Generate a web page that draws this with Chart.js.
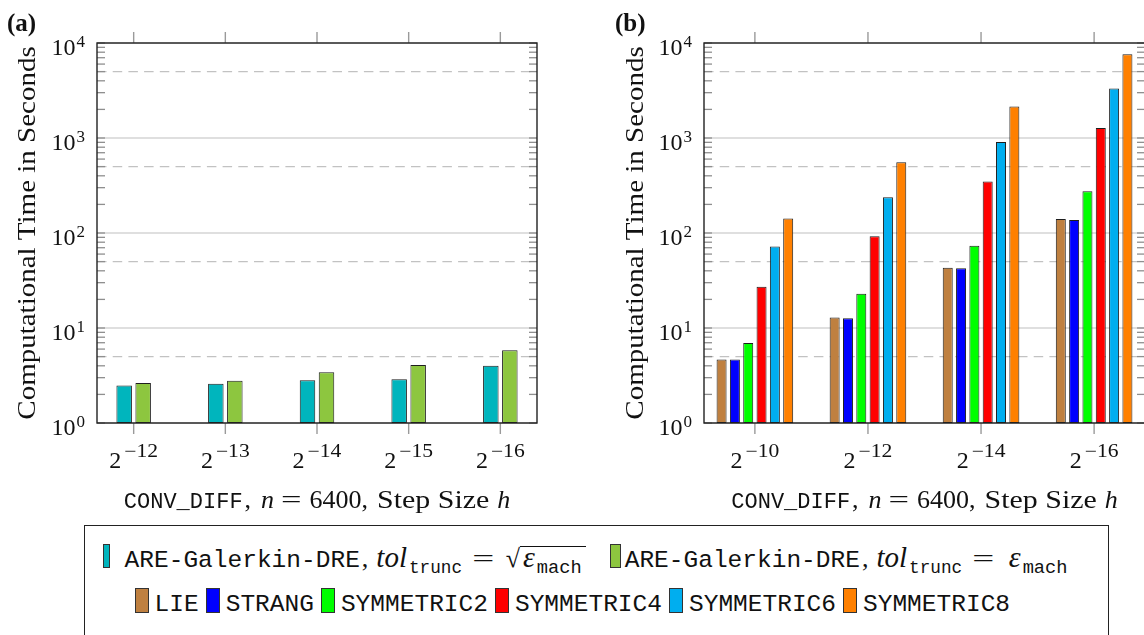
<!doctype html>
<html lang="en">
<head>
<meta charset="utf-8">
<title>Computational Time</title>
<script src="https://cdn.jsdelivr.net/npm/chart.js@4.4.1/dist/chart.umd.min.js"></script>
<style>
  html, body { margin: 0; padding: 0; background: #fff; }
  body { width: 1144px; height: 635px; position: relative; overflow: hidden; }
  canvas { position: absolute; top: 0; }
  #legend { position: absolute; left: 84px; top: 525px; width: 1025px; height: 130px;
            border: 1.4px solid #222; box-sizing: border-box; color: #111; }
  .row { position: absolute; left: 0; right: 0; text-align: left; white-space: nowrap;
         line-height: 30px; font-family: "Liberation Serif", serif; font-size: 26px; }
  .tt { font-family: "Liberation Mono", monospace; font-size: 24.5px; }
  .tol { font-style: italic; font-size: 29px; margin-left: 8px; }
  .comma { margin-left: 2px; }
  .sub { font-family: "Liberation Mono", monospace; font-size: 17.7px; position: relative; top: 6px; margin-left: 2px; }
  .sub2 { font-family: "Liberation Mono", monospace; font-size: 18.7px; position: relative; top: 6px; margin-left: 2px; }
  .eq { display: inline-block; transform: scaleX(1.5); margin: 0 15px 0 14px; }
  .eps { font-style: italic; font-size: 30px; margin-left: 3px; }
  .rad { display: inline-block; line-height: 20px; border-top: 1.3px solid #111; padding-right: 4px; }
  .sw { display: inline-block; border: 1px solid #333; box-sizing: border-box; }
  .thin { height: 24px; vertical-align: -1px; }
  .wide { width: 14px; height: 25px; vertical-align: -2px; margin-right: 6px; margin-left: 7px; }
</style>
</head>
<body>
<canvas id="plot_a" width="560" height="520" style="left:0"></canvas>
<canvas id="plot_b" width="560" height="520" style="left:600px"></canvas>
<div id="legend">
  <div class="row" id="row1" style="top:16px; padding-left:17.6px"></div>
  <div class="row" id="row2" style="top:62px; padding-left:42.6px"></div>
</div>

<script>
// ---- data ----
// (a) ARE-Galerkin-DRE, step size h = 2^k
const stepExpA = [-12, -13, -14, -15, -16];
const areSqrtEps = [2.48, 2.59, 2.82, 2.89, 4.0];
const areEps = [2.63, 2.78, 3.42, 4.09, 5.82];

// (b) splitting schemes
const stepExpB = [-10, -12, -14, -16];
const lie = [4.65, 12.9, 43.2, 140];
const strang = [4.65, 12.7, 42.6, 137];
const symmetric2 = [6.96, 23.0, 73.6, 275];
const symmetric4 = [27.1, 92.3, 348, 1274];
const symmetric6 = [71.9, 238, 908, 3311];
const symmetric8 = [142, 554, 2142, 7603];

const methodNames = ["LIE", "STRANG", "SYMMETRIC2", "SYMMETRIC4", "SYMMETRIC6", "SYMMETRIC8"];
const methodColors = ["#BF8040", "#0000FF", "#00FF00", "#FF0000", "#00AEEF", "#FF8000"];
const areColors = ["#00B5BD", "#8DC63F"];

// log axis: decades 10^0..10^4, minor ticks at 2..9
const decadeExps = [0, 1, 2, 3, 4];
const minorMults = [2, 3, 4, 5, 6, 7, 8, 9];

const serif = '"Liberation Serif", serif';
const mono = '"Liberation Mono", monospace';
const yTitle = "Computational Time in Seconds";

function line(ctx, x1, y1, x2, y2) {
    ctx.beginPath(); ctx.moveTo(x1, y1); ctx.lineTo(x2, y2); ctx.stroke();
}

// text pieces in different fonts, one after another, centred on cx
// pre = space before a piece, sx = sideways stretch (the original uses the wider TeX fonts)
function drawRuns(ctx, runs, cx, base) {
    let total = 0;
    runs.forEach(r => {
        ctx.font = r.font;
        r.w = ctx.measureText(r.text).width * (r.sx || 1);
        total += r.w + (r.pre || 0);
    });
    let x = cx - total / 2;
    ctx.textAlign = "left"; ctx.textBaseline = "alphabetic";
    runs.forEach(r => {
        x += r.pre || 0;
        ctx.font = r.font;
        ctx.save();
        ctx.translate(x, base + (r.dy || 0));
        ctx.scale(r.sx || 1, 1);
        ctx.fillText(r.text, 0, 0);
        ctx.restore();
        x += r.w;
    });
}

const texFrame = {
    id: "texFrame",
    beforeDatasetsDraw(chart) {
        const {ctx, chartArea: a, scales: {y}} = chart;
        ctx.save();
        // solid decade lines
        ctx.strokeStyle = "#d4d4d4"; ctx.lineWidth = 1.6;
        decadeExps.forEach(e => {
            const py = y.getPixelForValue(Math.pow(10, e));
            line(ctx, a.left, py, a.right, py);
        });
        // dashed lines at 5*10^k
        ctx.strokeStyle = "#c2c2c2"; ctx.lineWidth = 1.4; ctx.setLineDash([9.5, 6.2]);
        decadeExps.slice(0, -1).forEach(e => {
            const py = y.getPixelForValue(5 * Math.pow(10, e));
            line(ctx, a.left, py, a.right, py);
        });
        ctx.restore();
    },
    afterDraw(chart, args, opts) {
        const {ctx, chartArea: a, scales: {x, y}} = chart;
        ctx.save();
        // inward ticks on left and right
        ctx.strokeStyle = "#8f8f8f"; ctx.lineWidth = 1.3;
        decadeExps.forEach(e => {
            const d = Math.pow(10, e);
            const vals = [d].concat(e < 4 ? minorMults.map(m => m * d) : []);
            vals.forEach(v => {
                const py = y.getPixelForValue(v);
                line(ctx, a.left, py, a.left + 8, py);
                line(ctx, a.right - 8, py, a.right, py);
            });
        });
        // category ticks outside top and bottom
        ctx.strokeStyle = "#9a9a9a"; ctx.lineWidth = 1.4;
        x.ticks.forEach(t => {
            const px = x.getPixelForValue(t.value);
            line(ctx, px, a.top - 11, px, a.top);
            line(ctx, px, a.bottom, px, a.bottom + 11);
        });
        // frame
        ctx.strokeStyle = "#222"; ctx.lineWidth = 1.4;
        ctx.strokeRect(a.left, a.top, a.right - a.left, a.bottom - a.top);

        ctx.fillStyle = "#111";
        // y labels 10^k
        decadeExps.forEach(e => {
            const py = y.getPixelForValue(Math.pow(10, e));
            ctx.textAlign = "right"; ctx.textBaseline = "alphabetic";
            ctx.font = "17px " + serif;
            const ew = ctx.measureText(String(e)).width;
            ctx.fillText(String(e), a.left - 12, py + 4);
            ctx.font = "24px " + serif;
            ctx.fillText("10", a.left - 12 - ew - 1, py + 12);
        });
        // x labels 2^k
        x.ticks.forEach((t, i) => {
            const px = x.getPixelForValue(t.value);
            drawRuns(ctx, [
                {text: "2", font: "24px " + serif},
                {text: "\u2212" + String(-opts.exps[i]), font: "18px " + serif, dy: -11, sx: 1.2, pre: 3}
            ], px, a.bottom + 45);
        });
        // x title
        drawRuns(ctx, [
            {text: "CONV_DIFF", font: "22px " + mono},
            {text: ",", font: "26px " + serif, pre: 2},
            {text: "n", font: "italic 26px " + serif, pre: 10},
            {text: "=", font: "26px " + serif, sx: 1.4, pre: 7},
            {text: "6400,", font: "26px " + serif, pre: 8},
            {text: "Step Size", font: "26px " + serif, sx: 1.15, pre: 9},
            {text: "h", font: "italic 26px " + serif, pre: 8}
        ], (a.left + a.right) / 2, a.bottom + 85);
        // y title, rotated
        ctx.save();
        ctx.translate(opts.titleX, (a.top + a.bottom) / 2);
        ctx.rotate(-Math.PI / 2);
        ctx.scale(1.115, 1);
        ctx.font = "26px " + serif;
        ctx.textAlign = "center"; ctx.textBaseline = "alphabetic";
        ctx.fillText(yTitle, 0, 0);
        ctx.restore();
        // panel tag
        ctx.textAlign = "left";
        ctx.font = "bold 25px " + serif;
        ctx.fillText(opts.tag, opts.tagX, 31);
        ctx.restore();
    }
};

function panel(id, exps, datasets, cfg) {
    return new Chart(document.getElementById(id), {
        type: "bar",
        data: {datasets: datasets},
        options: {
            responsive: false,
            animation: false,
            layout: {padding: {top: 43, right: cfg.padRight, left: 0, bottom: 0}},
            datasets: {bar: {categoryPercentage: cfg.catPct, barPercentage: cfg.barPct,
                             borderWidth: 1, borderColor: "#1e1e1e", borderSkipped: false}},
            plugins: {
                legend: {display: false},
                tooltip: {enabled: false},
                texFrame: {exps: exps, tag: cfg.tag, tagX: cfg.tagX, titleX: cfg.titleX}
            },
            scales: {
                x: {type: "linear", offset: false, min: -cfg.edge, max: exps.length - 1 + cfg.edge,
                    grid: {display: false}, border: {display: false}, ticks: {display: false},
                    afterBuildTicks: s => { s.ticks = exps.map((_, i) => ({value: i})); },
                    afterFit: s => { s.height = 97; }},
                y: {type: "logarithmic", min: 1, max: 10000,
                    grid: {display: false}, border: {display: false}, ticks: {display: false},
                    afterFit: s => { s.width = cfg.axisW; }}
            }
        },
        plugins: [texFrame]
    });
}

const pts = arr => arr.map((v, i) => ({x: i, y: v}));

panel("plot_a", stepExpA, [
    {label: "ARE-Galerkin-DRE sqrt(eps)", data: pts(areSqrtEps), backgroundColor: areColors[0]},
    {label: "ARE-Galerkin-DRE eps", data: pts(areEps), backgroundColor: areColors[1]}
], {padRight: 23, axisW: 97, edge: 0.4, catPct: 0.4145, barPct: 0.816, titleX: 35, tag: "(a)", tagX: 7});

const methodTimes = [lie, strang, symmetric2, symmetric4, symmetric6, symmetric8];
panel("plot_b", stepExpB, methodNames.map((n, k) => (
    {label: n, data: pts(methodTimes[k]), backgroundColor: methodColors[k]}
)), {padRight: 15, axisW: 104, edge: 0.45, catPct: 0.707, barPct: 0.75, titleX: 43, tag: "(b)", tagX: 15});

// ---- legend ----
const tolPart = '<span class="comma">,</span><span class="tol">tol</span><span class="sub">trunc</span>' +
    '<span class="eq">=</span>';
const sqrtItem = tolPart + '\u221A<span class="rad"><span class="eps">\u03B5</span><span class="sub2">mach</span></span>';
const epsItem = tolPart + '<span class="eps">\u03B5</span><span class="sub2">mach</span>';
document.getElementById("row1").innerHTML =
    '<span class="sw thin" style="width:7px;margin-right:15px;background:' + areColors[0] + '"></span>' +
    '<span class="tt">ARE-Galerkin-DRE</span>' + sqrtItem +
    '<span class="sw thin" style="width:11px;margin-left:24px;margin-right:4px;background:' + areColors[1] + '"></span>' +
    '<span class="tt">ARE-Galerkin-DRE</span>' + epsItem;
document.getElementById("row2").innerHTML = methodNames.map((n, k) =>
    '<span class="sw wide" style="background:' + methodColors[k] + '"></span><span class="tt">' + n + '</span>'
).join("");
</script>
</body>
</html>
